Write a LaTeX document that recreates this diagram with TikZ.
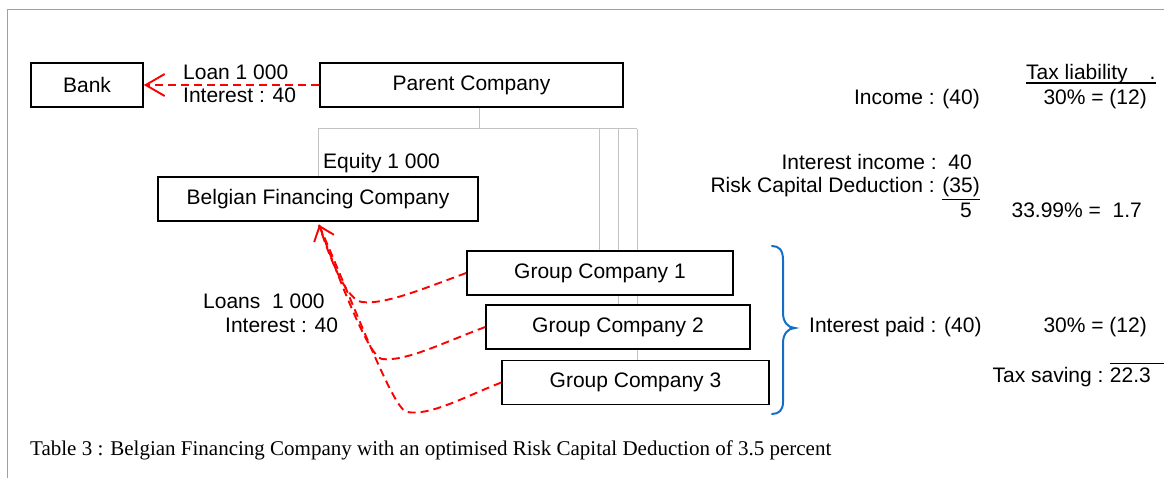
\documentclass[tikz,border=0pt]{standalone}
\usepackage{fontspec}
\setmainfont{Liberation Sans}
\newfontfamily\capfont{Liberation Serif}
\usetikzlibrary{arrows.meta,calc}
\definecolor{treegray}{RGB}{195,195,195}
\definecolor{framegray}{RGB}{160,160,160}
\definecolor{braceblue}{RGB}{20,110,200}
\begin{document}
\begin{tikzpicture}[x=1pt,y=-1pt,
  font=\fontsize{21}{25}\selectfont,
  box/.style={draw=black, line width=1.6pt, fill=white, inner sep=0pt, minimum height=44pt},
  lbl/.style={inner sep=0pt},
  flow/.style={red, line width=1.9pt, dash pattern=on 8pt off 5pt},
  tree/.style={treegray, line width=1pt},
]
\useasboundingbox (0,0) rectangle (1164,478);

% page frame
\draw[framegray, line width=1pt] (7,478) -- (7,10) -- (1164,10);

% ownership tree (drawn first so that boxes cover it)
\coordinate (bus)  at (479,129);
\coordinate (busE) at (637,129);
\coordinate (v1)   at (599,129);
\coordinate (v2)   at (618,129);
\coordinate (v3)   at (637,129);

% boxes
\node[box, minimum width=112pt] (bank)   at (87,85)     {Bank};
\node[box, minimum width=303pt] (parent) at (471.5,85)  {Parent Company};
\node[box, minimum width=320pt] (belg)   at (318,199)   {Belgian Financing Company};

\draw[tree] (parent.south -| bus) -- (bus);
\draw[tree] (belg.north) -- (belg.north |- bus) -- (busE);

\draw[tree] (v1) -- (v1 |- 0,251);
\draw[tree] (v2) -- (v2 |- 0,305);
\draw[tree] (v3) -- (v3 |- 0,361);

\node[box, minimum width=266pt] (g1) at (600,273)   {Group Company 1};
\node[box, minimum width=264pt] (g2) at (618,327)   {Group Company 2};
\node[box, minimum width=267pt] (g3) at (635.5,382.5) {Group Company 3};

% loan from the bank
\draw[flow, -{Straight Barb[length=19pt,width=22pt]}] (parent.west) -- (bank.east);
\node[lbl, anchor=base west] (loan)  at (183,80)  {Loan 1 000};
\node[lbl, anchor=base west] (int1)  at (183,103) {Interest : 40};
\node[lbl, anchor=base west] (eq)    at (323,169) {Equity 1 000};

% intra-group loans
\coordinate (tip) at ($(belg.south)+(1,3)$);
\draw[flow] (g1.west)
  .. controls (425,288) and (385,305) .. (362,302)
  .. controls (348,300) and (333,268) .. (tip);
\draw[flow] (g3.west)
  .. controls (462,398) and (430,416) .. (407,412)
  .. controls (394,410) and (362,325) .. (tip);
\draw[flow, -{Straight Barb[length=13pt,width=21pt]}] (g2.west)
  .. controls (445,342) and (405,362) .. (382,359)
  .. controls (370,357) and (345,295) .. (tip);
\node[lbl, anchor=base west] (loans) at (203,308) {Loans\ \ 1 000};
\node[lbl, anchor=base west] (int2)  at (225,332) {Interest : 40};

% brace grouping the operating companies
\draw[braceblue, line width=2pt, line cap=round]
  (772,246) .. controls (779,246) and (783,250) .. (783,260) -- (783,313)
  .. controls (783,322) and (788,328) .. (795,328)
  .. controls (788,328) and (783,334) .. (783,343) -- (783,402)
  .. controls (783,410) and (779,414) .. (772,414);

% tax computation
\node[lbl, anchor=base west] (tl) at (1026,80) {Tax liability\hspace{22pt}.};
\draw[black, line width=1.2pt] ([yshift=-3pt]tl.base west) -- ([yshift=-3pt]tl.base east);
\node[lbl, anchor=base east] (inc)   at (980,105)  {Income : (40)};
\node[lbl, anchor=base east] (incT)  at (1147,105) {30\% = (12)};
\node[lbl, anchor=base east] (ii)    at (972,170)  {Interest income :\ \ 40};
\node[lbl, anchor=base east] (rcd)   at (980,193)  {Risk Capital Deduction : \underline{(35)}};
\node[lbl, anchor=base east] (net)   at (972,218)  {5};
\node[lbl, anchor=base east] (netT)  at (1142,218) {33.99\% =\ \ 1.7};
\node[lbl, anchor=base west] (ip)    at (809,332)  {Interest paid : (40)};
\node[lbl, anchor=base east] (ipT)   at (1147,332) {30\% = (12)};
\node[lbl, anchor=base east] (tsv)   at (1151,382) {22.3};
\node[lbl, anchor=base east] (ts)    at ([xshift=-6pt]tsv.base west) {Tax saving :};
\draw[black, line width=1pt] ([yshift=4pt]tsv.north west) -- ([yshift=4pt]tsv.north west -| 1164,0);

% caption
\node[lbl, anchor=base west, font=\capfont\fontsize{21}{25}\selectfont] (cap) at (30,455)
  {Table 3 : Belgian Financing Company with an optimised Risk Capital Deduction of 3.5 percent};
\end{tikzpicture}
\end{document}
